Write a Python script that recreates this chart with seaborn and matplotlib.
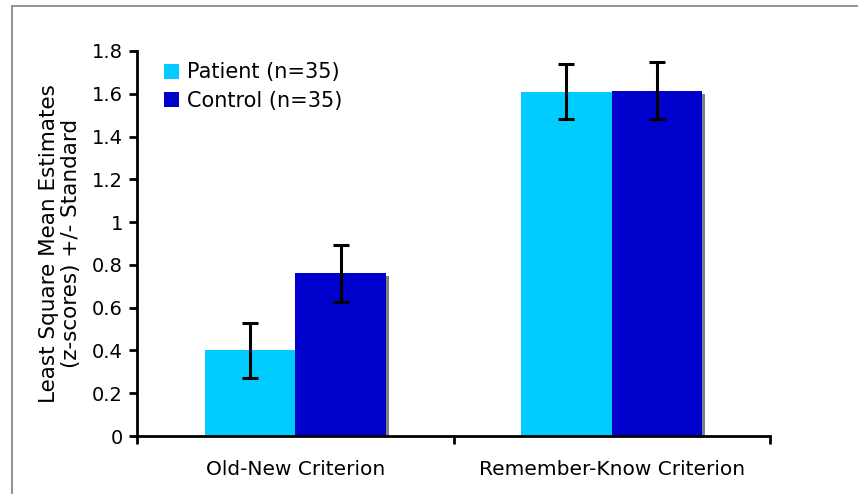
import matplotlib
matplotlib.use("Agg")
import matplotlib.pyplot as plt
import matplotlib.patheffects as pe
from matplotlib.lines import Line2D
import seaborn as sns
import pandas as pd

criteria = ["Old-New Criterion", "Remember-Know Criterion"]
groups = ["Patient (n=35)", "Control (n=35)"]
patient_means = [0.40, 1.61]
patient_se = [0.13, 0.13]
control_means = [0.76, 1.615]
control_se = [0.135, 0.135]
y_ticks = [0, 0.2, 0.4, 0.6, 0.8, 1, 1.2, 1.4, 1.6, 1.8]
y_tick_labels = ["0", "0.2", "0.4", "0.6", "0.8", "1", "1.2", "1.4", "1.6", "1.8"]

colors = {groups[0]: "#00CCFF", groups[1]: "#0000CC"}

df = pd.DataFrame({
    "criterion": criteria * 2,
    "group": [groups[0]] * 2 + [groups[1]] * 2,
    "mean": patient_means + control_means,
    "se": patient_se + control_se,
})

sns.set_style("white")
plt.rcParams["font.family"] = ["DejaVu Sans"]
plt.rcParams["text.color"] = "black"
plt.rcParams["axes.labelcolor"] = "black"
plt.rcParams["xtick.color"] = "black"
plt.rcParams["ytick.color"] = "black"

fig = plt.figure(figsize=(8.58, 4.94), dpi=100)
ax = fig.add_axes([137 / 858, 1 - 436 / 494, (770 - 137) / 858, (436 - 51) / 494])

sns.barplot(data=df, x="criterion", y="mean", hue="group", order=criteria,
            hue_order=groups, palette=colors, width=0.572, gap=0,
            errorbar=None, saturation=1, linewidth=0, ax=ax)

# drop shadow on the control bars, error bars from the drawn bars
bars = ax.patches
n = len(criteria)
for i, bar in enumerate(bars[:2 * n]):
    if i >= n:
        bar.set_path_effects([pe.SimplePatchShadow(offset=(2.2, -2.2),
                                                   shadow_rgbFace="#808080",
                                                   alpha=1.0), pe.Normal()])
all_means = patient_means + control_means
all_se = patient_se + control_se
for bar, m, s in zip(bars[:2 * n], all_means, all_se):
    cx = bar.get_x() + bar.get_width() / 2
    ax.errorbar(cx, m, yerr=s, fmt="none", ecolor="black", elinewidth=2.2,
                capsize=6, capthick=2.2, zorder=5)

ax.set_xlim(-0.5, 1.5)
ax.set_ylim(0, 1.8)
ax.set_yticks(y_ticks)
ax.set_yticklabels(y_tick_labels)
ax.set_xticks([-0.5, 0.5, 1.5], minor=True)
ax.tick_params(axis="x", which="major", length=0, pad=17, labelsize=14.5,
               labelcolor="black")
ax.tick_params(axis="x", which="minor", length=6, width=2, direction="out",
               color="black", bottom=True)
ax.tick_params(axis="y", length=6, width=2, direction="out", pad=4,
               labelsize=14, color="black", labelcolor="black", left=True)
ax.set_xlabel("")
ax.set_ylabel("Least Square Mean Estimates\n(z-scores) +/- Standard",
              fontsize=15.5, labelpad=8, color="black", linespacing=1.1)

for side in ["top", "right"]:
    ax.spines[side].set_visible(False)
for side in ["left", "bottom"]:
    ax.spines[side].set_color("black")
    ax.spines[side].set_linewidth(2)

leg = ax.legend(loc="upper left", bbox_to_anchor=(0.029, 0.992), frameon=False,
                fontsize=15, handlelength=0.75, handleheight=0.75,
                handletextpad=0.35, labelspacing=0.4, borderaxespad=0)
for t in leg.get_texts():
    t.set_color("black")

# thin grey frame lines along the top and left of the figure
fig.add_artist(Line2D([12 / 858, 1], [1 - 6 / 494, 1 - 6 / 494],
                      color="#808080", lw=1.2))
fig.add_artist(Line2D([12 / 858, 12 / 858], [0, 1 - 6 / 494],
                      color="#808080", lw=1.2))

fig.savefig("out.png", dpi=100)
